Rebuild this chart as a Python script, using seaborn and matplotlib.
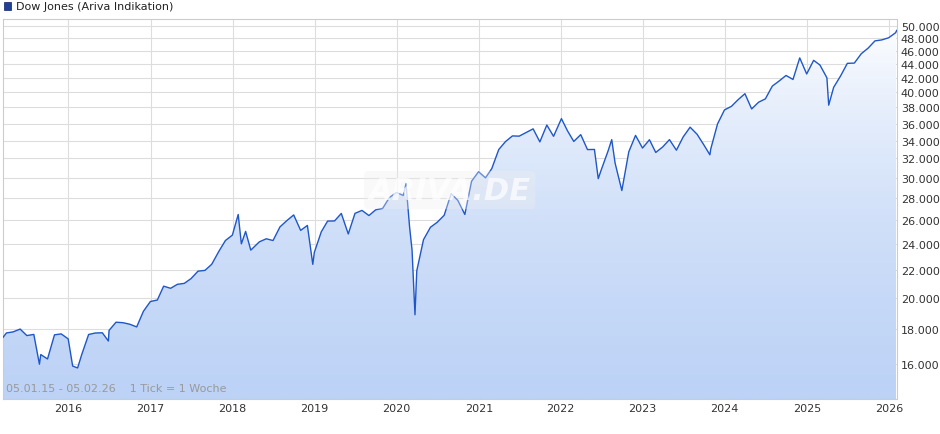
import numpy as np
import pandas as pd
import matplotlib.pyplot as plt
import matplotlib.ticker as mticker
import matplotlib.dates as mdates
from matplotlib.patches import Polygon, Rectangle
import seaborn as sns

sns.set_style("white")
plt.rcParams['font.family'] = ['DejaVu Sans']

# Dow Jones (month ends plus some visible extremes)
dates = [
    "2015-03-15", "2015-03-31", "2015-04-30", "2015-05-31", "2015-06-30", "2015-07-31", "2015-08-25", "2015-08-31",
    "2015-09-30", "2015-10-31", "2015-11-30", "2015-12-31", "2016-01-20", "2016-02-11", "2016-02-29", "2016-03-31",
    "2016-04-30", "2016-05-31", "2016-06-27", "2016-06-30", "2016-07-31", "2016-08-31", "2016-09-30", "2016-10-31",
    "2016-11-30", "2016-12-31", "2017-01-31", "2017-02-28", "2017-03-31", "2017-04-30", "2017-05-31", "2017-06-30",
    "2017-07-31", "2017-08-31", "2017-09-30", "2017-10-31", "2017-11-30", "2017-12-31", "2018-01-26", "2018-02-09",
    "2018-02-28", "2018-03-23", "2018-04-30", "2018-05-31", "2018-06-30", "2018-07-31", "2018-08-31", "2018-09-30",
    "2018-10-31", "2018-11-30", "2018-12-24", "2018-12-31", "2019-01-31", "2019-02-28", "2019-03-31", "2019-04-30",
    "2019-05-31", "2019-06-30", "2019-07-31", "2019-08-31", "2019-09-30", "2019-10-31", "2019-11-30", "2019-12-31",
    "2020-01-31", "2020-02-12", "2020-02-28", "2020-03-10", "2020-03-23", "2020-03-31", "2020-04-30", "2020-05-31",
    "2020-06-30", "2020-07-31", "2020-08-31", "2020-09-30", "2020-10-31", "2020-11-30", "2020-12-31", "2021-01-31",
    "2021-02-28", "2021-03-31", "2021-04-30", "2021-05-31", "2021-06-30", "2021-07-31", "2021-08-31", "2021-09-30",
    "2021-10-31", "2021-11-30", "2021-12-31", "2022-01-04", "2022-01-31", "2022-02-28", "2022-03-31", "2022-04-30",
    "2022-05-31", "2022-06-17", "2022-06-30", "2022-07-31", "2022-08-16", "2022-08-31", "2022-09-30", "2022-10-31",
    "2022-11-30", "2022-12-31", "2023-01-31", "2023-02-28", "2023-03-31", "2023-04-30", "2023-05-31", "2023-06-30",
    "2023-07-31", "2023-08-31", "2023-09-30", "2023-10-27", "2023-10-31", "2023-11-30", "2023-12-31", "2024-01-31",
    "2024-02-29", "2024-03-31", "2024-04-30", "2024-05-31", "2024-06-30", "2024-07-31", "2024-08-31", "2024-09-30",
    "2024-10-31", "2024-11-30", "2024-12-31", "2025-01-31", "2025-02-28", "2025-03-31", "2025-04-08", "2025-04-30",
    "2025-05-31", "2025-06-30", "2025-07-31", "2025-08-31", "2025-09-30", "2025-10-31", "2025-11-30", "2025-12-31",
    "2026-01-31", "2026-02-05",
]
values = [
    17500, 17776, 17841, 18011, 17620, 17690, 16000, 16528,
    16285, 17664, 17720, 17425, 15900, 15800, 16517, 17685,
    17774, 17787, 17300, 17930, 18432, 18401, 18308, 18142,
    19124, 19763, 19864, 20812, 20663, 20941, 21009, 21350,
    21891, 21948, 22405, 23377, 24272, 24719, 26500, 24000,
    25029, 23500, 24163, 24416, 24271, 25415, 25965, 26458,
    25116, 25538, 22400, 23327, 24999, 25916, 25929, 26593,
    24815, 26600, 26864, 26403, 26917, 27046, 28051, 28538,
    28256, 29400, 25409, 23500, 18900, 21917, 24346, 25383,
    25813, 26428, 28430, 27782, 26502, 29639, 30606, 29983,
    30932, 32982, 33875, 34529, 34503, 34935, 35361, 33844,
    35820, 34484, 36338, 36600, 35132, 33893, 34678, 32977,
    32990, 29900, 30775, 32845, 34100, 31510, 28726, 32733,
    34590, 33147, 34086, 32657, 33274, 34098, 32908, 34408,
    35560, 34722, 33508, 32400, 33053, 35951, 37690, 38150,
    38996, 39807, 37816, 38686, 39119, 40843, 41563, 42330,
    41763, 44911, 42544, 44545, 43841, 42002, 38300, 40669,
    42270, 44095, 44131, 45545, 46398, 47563, 47716, 48063,
    48892, 49300,
]

df = pd.DataFrame({"date": pd.to_datetime(dates), "value": values})

fig = plt.figure(figsize=(9.4, 4.35), dpi=100)
ax = fig.add_axes([0.003, 0.08, 0.951, 0.874])

ymin, ymax = 14220, 51200
x0, x1 = pd.Timestamp("2015-03-15"), pd.Timestamp("2026-02-05")

# gradient fill below the line
xn = mdates.date2num(df["date"])
grad = np.linspace(0, 1, 256).reshape(-1, 1)
im = ax.imshow(grad, aspect="auto", origin="lower",
               cmap=plt.matplotlib.colors.LinearSegmentedColormap.from_list("g", ["#bcd2f6", "#ffffff"]),
               extent=[xn[0], xn[-1], ymin, ymax], zorder=1)
poly = Polygon(np.column_stack([np.r_[xn[0], xn, xn[-1]], np.r_[ymin, df["value"], ymin]]),
               closed=True, transform=ax.transData, facecolor="none", edgecolor="none")
ax.add_patch(poly)
im.set_clip_path(poly)

sns.lineplot(data=df, x="date", y="value", ax=ax, color="#1f57c8", linewidth=1.0, zorder=3)

ax.set_yscale("log")
ax.set_ylim(ymin, ymax)
ax.set_xlim(x0, x1)

yticks = list(range(16000, 50001, 2000))
ax.yaxis.set_major_locator(mticker.FixedLocator(yticks))
ax.yaxis.set_minor_locator(mticker.NullLocator())
ax.yaxis.set_major_formatter(mticker.FuncFormatter(lambda v, p: f"{int(v):,}".replace(",", ".")))
ax.yaxis.tick_right()
ax.xaxis.set_major_locator(mdates.YearLocator())
ax.xaxis.set_major_formatter(mdates.DateFormatter("%Y"))
ax.tick_params(axis="both", labelsize=8, colors="#333333", length=0, pad=3)
ax.grid(True, color="#dddddd", linewidth=0.8, zorder=0)
ax.set_axisbelow(True)
ax.set_xlabel("")
ax.set_ylabel("")
for s in ax.spines.values():
    s.set_color("#cccccc")
    s.set_linewidth(0.8)

# faint watermark
ax.text(0.5, 0.55, "ARIVA.DE", transform=ax.transAxes, fontsize=22, fontweight="bold",
        style="italic", color="#ffffff", alpha=0.7, ha="center", va="center", zorder=4,
        bbox=dict(boxstyle="round,pad=0.15", facecolor="#eeeeee", edgecolor="none", alpha=0.35))
ax.text(0.004, 0.015, "05.01.15 - 05.02.26    1 Tick = 1 Woche", transform=ax.transAxes,
        fontsize=8, color="#999999", ha="left", va="bottom", zorder=4)

fig.patches.append(Rectangle((0.004, 0.974), 0.008, 0.018, transform=fig.transFigure,
                             facecolor="#1f3f99", edgecolor="#0d2266", linewidth=0.5))
fig.text(0.017, 0.983, "Dow Jones (Ariva Indikation)", fontsize=8, color="#222222", va="center")

fig.savefig("out.png", dpi=100)
